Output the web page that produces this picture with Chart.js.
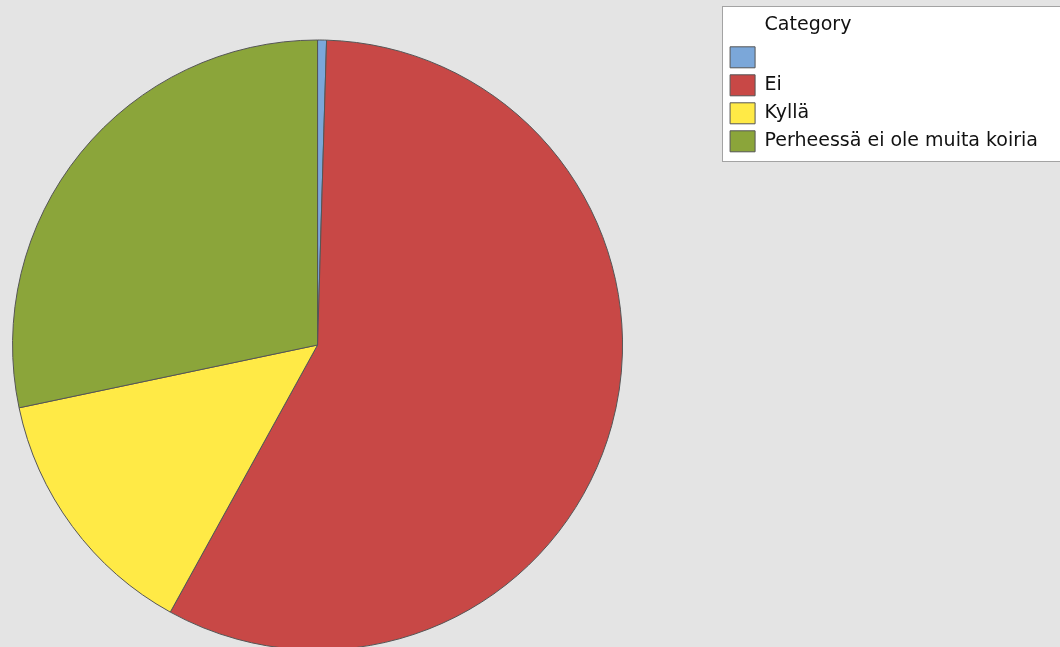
<!DOCTYPE html>
<html>
<head>
<meta charset="utf-8">
<script src="https://cdn.jsdelivr.net/npm/chart.js@4/dist/chart.umd.min.js"></script>
<style>
  html, body { margin: 0; padding: 0; background: #e4e4e4; overflow: hidden; }
  #wrap { position: relative; width: 1060px; height: 647px; overflow: hidden; }
  /* canvas is a bit larger than the window so the pie can run past the left/bottom edge */
  #pieChart { position: absolute; left: -88px; top: 0; }
</style>
</head>
<body>
<div id="wrap"><canvas id="pieChart" width="1148" height="690"></canvas></div>
<script>
// Data (counts per answer)
const categories = ['', 'Ei', 'Kyllä', 'Perheessä ei ole muita koiria'];
const counts = [1, 122, 29, 60];
const sliceColors = ['#7ba7d9', '#c84846', '#ffea46', '#8ba53a'];
const legendTitle = 'Category';

const labelFont = { family: "'DejaVu Sans', sans-serif", size: 19 };
const swatchW = 25;

// White box behind the legend, and the legend title drawn in line with the labels
const legendBox = {
    id: 'legendBox',
    beforeDraw(chart) {
        const lg = chart.legend;
        if (!lg || !lg.legendHitBoxes || !lg.legendHitBoxes.length) return;
        const hb = lg.legendHitBoxes;
        const last = hb[hb.length - 1];
        const x0 = Math.round(hb[0].left - 8) + 0.5;
        const y0 = 6.5;
        const y1 = Math.round(last.top + last.height + 9) + 0.5;
        const ctx = chart.ctx;
        ctx.save();
        ctx.fillStyle = '#ffffff';
        ctx.fillRect(x0, y0, chart.width - x0 + 5, y1 - y0);
        ctx.strokeStyle = '#a3a3a3';
        ctx.lineWidth = 1;
        ctx.strokeRect(x0, y0, chart.width - x0 + 5, y1 - y0);
        ctx.restore();
    },
    afterDraw(chart) {
        const lg = chart.legend;
        if (!lg || !lg.legendHitBoxes || !lg.legendHitBoxes.length) return;
        const first = lg.legendHitBoxes[0];
        const ctx = chart.ctx;
        ctx.save();
        ctx.font = labelFont.size + 'px ' + labelFont.family;
        ctx.fillStyle = '#111111';
        ctx.textBaseline = 'middle';
        ctx.fillText(legendTitle, first.left + swatchW + labelFont.size / 2, 25);
        ctx.restore();
    }
};

new Chart(document.getElementById('pieChart'), {
    type: 'pie',
    data: {
        labels: categories,
        datasets: [{
            data: counts,
            backgroundColor: sliceColors,
            borderColor: '#555555',
            borderWidth: 1,
            radius: 305,
            clip: false
        }]
    },
    options: {
        responsive: false,
        animation: false,
        layout: { padding: { left: 0, right: 12, top: 0, bottom: 0 } },
        plugins: {
            legend: {
                position: 'right',
                align: 'start',
                title: {
                    display: true,
                    text: legendTitle,
                    color: 'rgba(0,0,0,0)',
                    font: labelFont,
                    padding: { top: 15, bottom: 2 }
                },
                labels: {
                    boxWidth: swatchW,
                    boxHeight: 21,
                    padding: 7,
                    color: '#111111',
                    font: labelFont
                }
            },
            tooltip: { enabled: false }
        }
    },
    plugins: [legendBox]
});
</script>
</body>
</html>
